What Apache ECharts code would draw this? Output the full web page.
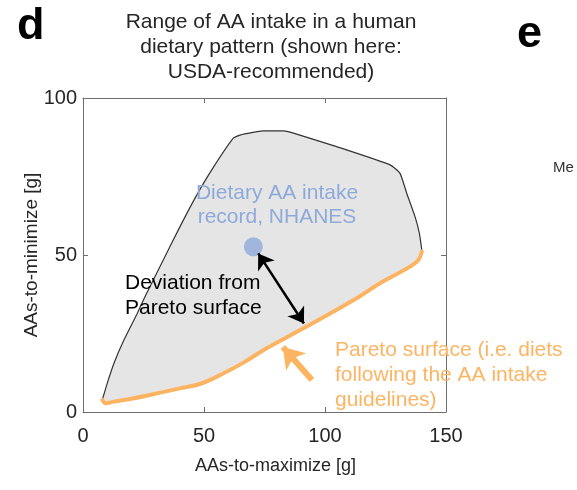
<!DOCTYPE html>
<html>
<head>
<meta charset="utf-8">
<script src="https://cdn.jsdelivr.net/npm/echarts@6/dist/echarts.min.js"></script>
<style>
html,body{margin:0;padding:0;background:#fff;}
#c{width:577px;height:490px;}
</style>
</head>
<body>
<div id="c"></div>
<script>
// ---- data ----
const xTicks = [0, 50, 100, 150];
const yTicks = [0, 50, 100];
// upper/left boundary of the feasible region (from lower-left, over the top, to the right corner)
const outlineX = [7.7, 8.0, 10.0, 12.8, 16.9, 22.4, 25.6, 32.5, 39.4, 46.3, 53.2, 62.1, 64.9, 74.5, 82.8, 88.3, 104.8, 126.9, 131.0, 133.8, 137.2, 139.0, 140.0];
const outlineY = [3.7, 4.0, 9.1, 15.5, 22.9, 31.4, 36.7, 47.4, 58.0, 68.1, 77.1, 87.2, 88.2, 89.5, 89.5, 88.5, 84.5, 78.7, 76.0, 69.6, 62.2, 56.9, 51.6];
// Pareto surface (lower boundary, from right corner back to lower-left)
const paretoX = [140.0, 138.6, 135.1, 122.7, 113.1, 92.4, 75.9, 66.5, 58.3, 48.6, 40.5, 33.9, 21.1, 12.8, 9.4, 8.0];
const paretoY = [51.1, 48.4, 46.3, 41.0, 36.2, 27.2, 20.3, 15.8, 12.4, 9.0, 7.6, 6.5, 4.4, 3.3, 2.8, 3.8];
// NHANES dietary intake record
const nhanesPoint = [70.4, 52.6];
// deviation arrow (from record to Pareto surface)
const deviationArrow = [[72.4, 50.5], [91.3, 28.2]];
// pointer arrow to Pareto surface
const paretoPointer = [[94.6, 10.2], [82.6, 20.7]];

const titleLines = ['Range of AA intake in a human', 'dietary pattern (shown here:', 'USDA-recommended)'];
const xName = 'AAs-to-maximize [g]';
const yName = 'AAs-to-minimize [g]';

// ---- chart ----
const FONT = '"Liberation Sans", Arial, Helvetica, sans-serif';
const AX = '#6e6e6e';
const TXT = '#262626';
const ORANGE = '#fdb462';
const BLUE = '#8eaadb';

const zip = (xs, ys) => xs.map((x, i) => [x, ys[i]]);
const polyPts = zip(outlineX, outlineY).concat(zip(paretoX, paretoY));

const chart = echarts.init(document.getElementById('c'), null, {renderer: 'canvas'});

const baseAxis = {
  type: 'value',
  splitLine: {show: false},
  axisLine: {show: true, onZero: false, lineStyle: {color: AX, width: 1}},
  axisTick: {show: true, inside: true, length: 5, lineStyle: {color: AX, width: 1}},
};

chart.setOption({
  animation: false,
  textStyle: {fontFamily: FONT},
  grid: {left: 83, right: 131, top: 98, bottom: 78, containLabel: false},
  xAxis: [
    Object.assign({}, baseAxis, {
      position: 'bottom', min: xTicks[0], max: xTicks[xTicks.length - 1], interval: 50,
      axisLabel: {fontSize: 20, color: TXT, margin: 14, fontFamily: FONT},
      name: xName, nameLocation: 'middle', nameGap: 45, nameMoveOverlap: false,
      nameTextStyle: {fontSize: 18, color: TXT, fontFamily: FONT, padding: [0, 0, 0, 22]}
    }),
    Object.assign({}, baseAxis, {
      position: 'top', min: xTicks[0], max: xTicks[xTicks.length - 1], interval: 50,
      axisLabel: {show: false}
    })
  ],
  yAxis: [
    Object.assign({}, baseAxis, {
      position: 'left', min: yTicks[0], max: yTicks[yTicks.length - 1], interval: 50,
      axisLabel: {fontSize: 20, color: TXT, margin: 6, fontFamily: FONT},
      name: yName, nameLocation: 'middle', nameGap: 42, nameMoveOverlap: false,
      nameTextStyle: {fontSize: 19, color: TXT, fontFamily: FONT}
    }),
    Object.assign({}, baseAxis, {
      position: 'right', min: yTicks[0], max: yTicks[yTicks.length - 1], interval: 50,
      axisLabel: {show: false}
    })
  ],
  series: [
    {
      type: 'custom', xAxisIndex: 0, yAxisIndex: 0, silent: true, z: 1,
      data: [polyPts[0]],
      renderItem: function (params, api) {
        const pts = polyPts.map(p => api.coord(p));
        return {type: 'polygon', shape: {points: pts}, style: {fill: '#e5e5e5', stroke: null}};
      }
    },
    {
      type: 'line', data: zip(outlineX, outlineY), showSymbol: false, silent: true, z: 2,
      lineStyle: {color: '#333333', width: 1.2}, smooth: 0.15
    },
    {
      type: 'line', data: zip(paretoX, paretoY), showSymbol: false, silent: true, z: 3,
      lineStyle: {color: ORANGE, width: 4, cap: 'round', join: 'round'}, smooth: 0.4
    },
    {
      type: 'scatter', data: [nhanesPoint], symbolSize: 19, z: 4, silent: true,
      itemStyle: {color: BLUE}
    },
    {
      type: 'lines', coordinateSystem: 'cartesian2d', z: 5, silent: true,
      data: [{coords: deviationArrow}],
      symbol: ['arrow', 'arrow'], symbolSize: 15,
      lineStyle: {color: '#000', width: 2.5, opacity: 1}
    },
    {
      type: 'lines', coordinateSystem: 'cartesian2d', z: 5, silent: true,
      data: [{coords: paretoPointer}],
      symbol: ['none', 'arrow'], symbolSize: 20,
      lineStyle: {color: ORANGE, width: 6, opacity: 1}
    }
  ],
  graphic: [
    {type: 'text', left: 17, top: 4, style: {text: 'd', font: 'bold 45px ' + FONT, fill: '#000'}},
    {type: 'text', left: 517, top: 12, style: {text: 'e', font: 'bold 45px ' + FONT, fill: '#000'}},
    {type: 'text', left: 553, top: 160, style: {text: 'Me', font: '15px ' + FONT, fill: '#333'}},
    {type: 'text', x: 271, y: 10, z: 10, style: {text: titleLines.join('\n'), font: '21px ' + FONT, fill: TXT, align: 'center', verticalAlign: 'top', lineHeight: 25}},
    {type: 'text', x: 277, y: 181, z: 10, style: {text: 'Dietary AA intake\nrecord, NHANES', font: '21px ' + FONT, fill: BLUE, align: 'center', verticalAlign: 'top', lineHeight: 24}},
    {type: 'text', x: 125, y: 271, z: 10, style: {text: 'Deviation from\nPareto surface', font: '21px ' + FONT, fill: '#000', align: 'left', verticalAlign: 'top', lineHeight: 25}},
    {type: 'text', x: 335, y: 338, z: 10, style: {text: 'Pareto surface (i.e. diets\nfollowing the AA intake\nguidelines)', font: '21px ' + FONT, fill: ORANGE, align: 'left', verticalAlign: 'top', lineHeight: 25}}
  ]
});
</script>
</body>
</html>
